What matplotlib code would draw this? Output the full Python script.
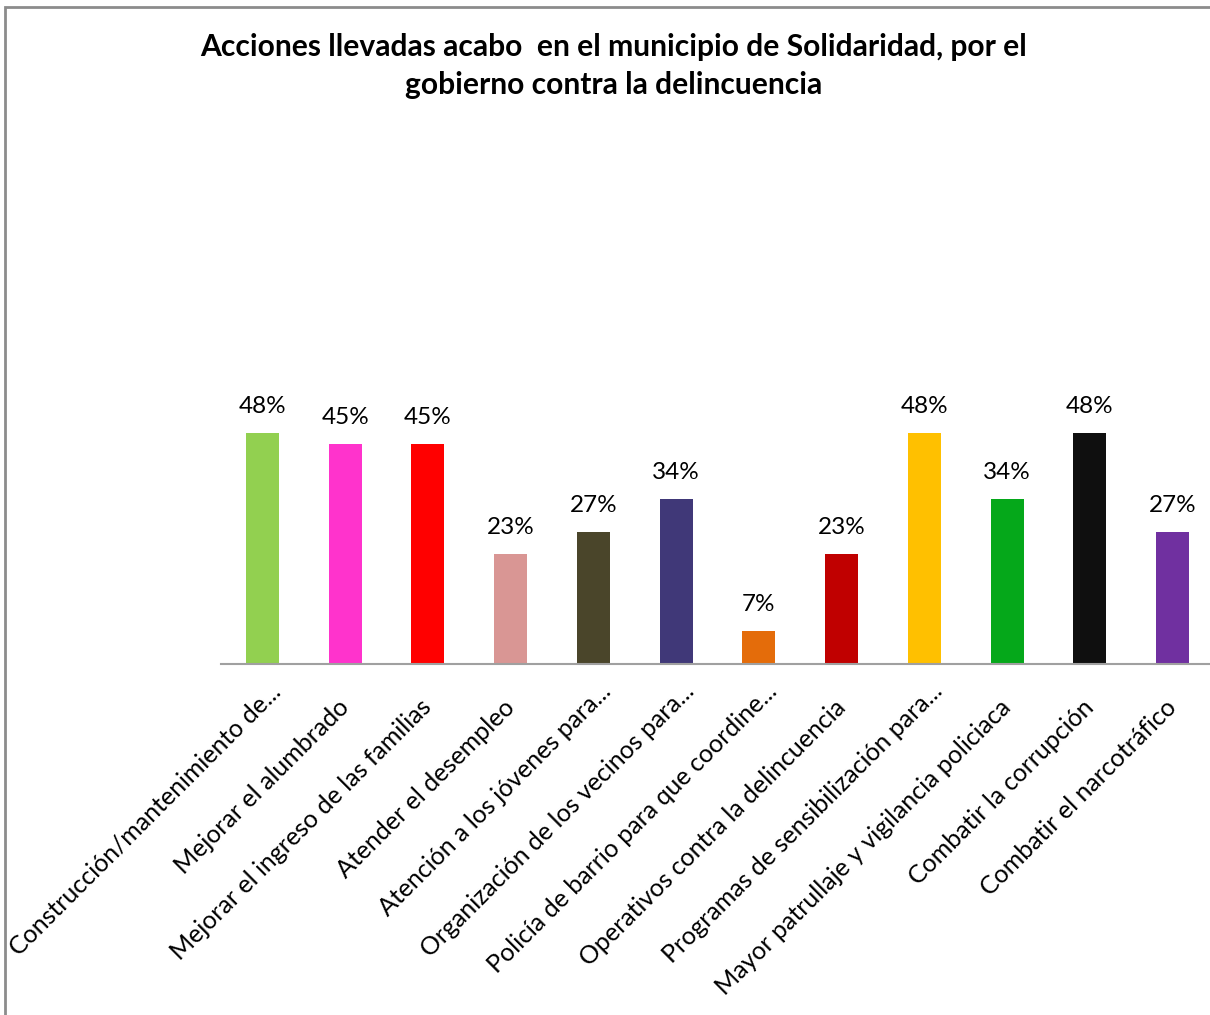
import matplotlib
matplotlib.use("Agg")
import matplotlib.pyplot as plt
from matplotlib.patches import Rectangle
import matplotlib.transforms as mtransforms

categories = [
    "Construcción/mantenimiento de...",
    "Mejorar el alumbrado",
    "Mejorar el ingreso de las familias",
    "Atender el desempleo",
    "Atención a los jóvenes para...",
    "Organización de los vecinos para...",
    "Policía de barrio para que coordine...",
    "Operativos contra la delincuencia",
    "Programas de sensibilización para...",
    "Mayor patrullaje y vigilancia policiaca",
    "Combatir la corrupción",
    "Combatir el narcotráfico",
]
values = [47.73, 45.45, 45.45, 22.73, 27.27, 34.09, 6.82, 22.73, 47.73, 34.09, 47.73, 27.27]
colors = ["#92D050", "#FF33CC", "#FF0000", "#D99694", "#4A452A", "#403878",
          "#E46C0A", "#C00000", "#FFC000", "#05A81A", "#0F0F0F", "#7030A0"]
title = "Acciones llevadas acabo  en el municipio de Solidaridad, por el\ngobierno contra la delincuencia"

plt.rcParams['font.family'] = ['Lato', 'DejaVu Sans']

W, H = 1210, 1015
fig = plt.figure(figsize=(W / 100, H / 100), dpi=100)

ymax = 60
px_per = 4.84
x0, x1 = 221, 1214
yb = 664
ytop = yb - ymax * px_per
ax = fig.add_axes([x0 / W, 1 - yb / H, (x1 - x0) / W, (yb - ytop) / H])
x = list(range(len(categories)))
ax.bar(x, values, width=0.4, color=colors)
ax.set_xlim(-0.5, 11.5)
ax.set_ylim(0, ymax)
for s in ['top', 'right', 'left']:
    ax.spines[s].set_visible(False)
ax.spines['bottom'].set_color('#A0A0A0')
ax.spines['bottom'].set_linewidth(1.5)
ax.set_yticks([])
ax.set_xticks(x)
ax.set_xticklabels(categories, rotation=45, ha='right', va='center',
                   rotation_mode='anchor', fontsize=18)
ax.tick_params(axis='x', length=0, pad=28.5)
for lbl in ax.get_xticklabels():
    if lbl.get_text().endswith("..."):
        lbl.set_transform(lbl.get_transform() +
                          mtransforms.ScaledTranslation(14 / 100, 16 / 100, fig.dpi_scale_trans))

for xi, v in zip(x, values):
    ax.annotate(f"{round(v)}%", (xi, v), xytext=(0, 11.5), textcoords='offset points',
                ha='center', va='bottom', fontsize=17.5)

fig.text(0.507, 1 - 33 / H, title, ha='center', va='top', fontsize=21.6,
         fontweight='bold', linespacing=1.45)

fig.patches.append(Rectangle((5 / W, -0.1), 1.2, 1 - 7 / H + 0.1,
                             transform=fig.transFigure, fill=False,
                             edgecolor='#8C8C8C', linewidth=2))

fig.savefig("out.png", dpi=100)
